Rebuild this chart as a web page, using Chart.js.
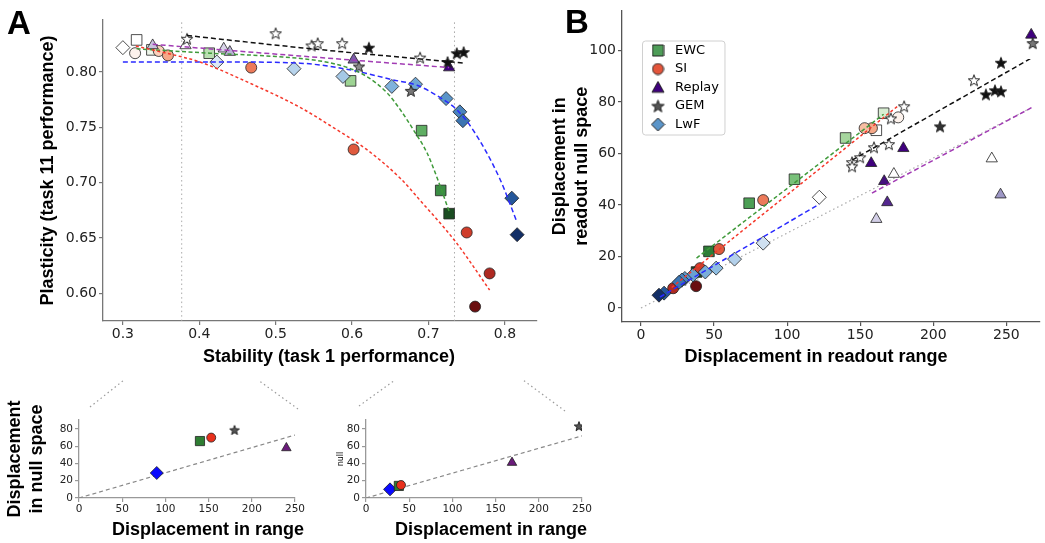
<!DOCTYPE html>
<html>
<head>
<meta charset="utf-8">
<title>Stability / plasticity</title>
<script src="https://cdn.jsdelivr.net/npm/chart.js@4.4.1/dist/chart.umd.min.js"></script>
<style>
  html, body { margin: 0; padding: 0; background: #fff; }
  #fig { position: relative; width: 1045px; height: 543px; overflow: hidden; }
  #fig canvas { position: absolute; }
  .tag { position: absolute; font: bold 33px/33px "Liberation Sans", Arial, sans-serif; color: #000; }
</style>
</head>
<body>
<div id="fig">
  <canvas id="links" width="1045" height="543" style="left:0px;top:0px"></canvas>
  <canvas id="chartA" width="660" height="380" style="left:0px;top:0px"></canvas>
  <canvas id="chartB" width="535" height="380" style="left:520px;top:0px"></canvas>
  <canvas id="inset1" width="418" height="148" style="left:0px;top:395px"></canvas>
  <canvas id="inset2" width="302" height="148" style="left:336px;top:395px"></canvas>
  <div class="tag" style="left:7px;top:6px">A</div>
  <div class="tag" style="left:565px;top:5px">B</div>
</div>
<script>
// ---------- panel A: stability vs plasticity ----------
const aTicksX = [0.3, 0.4, 0.5, 0.6, 0.7, 0.8];
const aTicksY = [0.60, 0.65, 0.70, 0.75, 0.80];

const aEwcX = [0.318, 0.338, 0.413, 0.598, 0.691, 0.716, 0.727];
const aEwcY = [0.829, 0.820, 0.817, 0.792, 0.747, 0.693, 0.672];
const aSiX = [0.316, 0.347, 0.359, 0.468, 0.602, 0.750, 0.780, 0.761];
const aSiY = [0.817, 0.819, 0.815, 0.804, 0.730, 0.655, 0.618, 0.588];
const aReplayX = [0.339, 0.382, 0.432, 0.440, 0.602, 0.727];
const aReplayY = [0.824, 0.824, 0.821, 0.818, 0.811, 0.804];
const aGemX = [0.384, 0.500, 0.547, 0.555, 0.587, 0.609, 0.622, 0.677, 0.689, 0.725, 0.737, 0.746];
const aGemY = [0.830, 0.835, 0.824, 0.826, 0.826, 0.805, 0.822, 0.783, 0.813, 0.809, 0.817, 0.818];
const aLwfX = [0.300, 0.423, 0.524, 0.588, 0.652, 0.683, 0.723, 0.741, 0.745, 0.809, 0.816];
const aLwfY = [0.822, 0.809, 0.803, 0.796, 0.787, 0.789, 0.776, 0.764, 0.756, 0.686, 0.653];

// fitted trade-off curves
const aFitEwcX = [0.318, 0.414, 0.500, 0.558, 0.594, 0.619, 0.646, 0.663, 0.680, 0.698, 0.712, 0.727];
const aFitEwcY = [0.821, 0.817, 0.814, 0.810, 0.804, 0.796, 0.781, 0.766, 0.748, 0.727, 0.703, 0.674];
const aFitSiX = [0.317, 0.357, 0.401, 0.466, 0.532, 0.575, 0.619, 0.663, 0.689, 0.735, 0.780];
const aFitSiY = [0.8235, 0.817, 0.809, 0.790, 0.768, 0.750, 0.730, 0.704, 0.684, 0.647, 0.603];
const aFitLwfX = [0.300, 0.450, 0.532, 0.597, 0.653, 0.685, 0.715, 0.737, 0.758, 0.793, 0.816];
const aFitLwfY = [0.809, 0.809, 0.808, 0.802, 0.793, 0.788, 0.777, 0.766, 0.748, 0.704, 0.664];
const aFitGemX = [0.384, 0.532, 0.748];
const aFitGemY = [0.833, 0.822, 0.808];
const aFitReplayX = [0.339, 0.532, 0.727];
const aFitReplayY = [0.825, 0.8145, 0.804];
const aMarkLines = [0.377, 0.734];

// ---------- panel B: displacement ----------
const bTicksX = [0, 50, 100, 150, 200, 250];
const bTicksY = [0, 20, 40, 60, 80, 100];

const bEwcX = [166, 161, 140, 105, 74, 46.5, 38];
const bEwcY = [75.6, 69, 66, 50, 40.7, 22, 14];
const bSiX = [176, 158, 153, 83.6, 53.4, 40.4, 22, 37.7];
const bSiY = [74, 69.8, 69.8, 41.9, 22.9, 15.5, 7.7, 8.5];
const bReplayX = [267, 179.5, 157.5, 166.4, 168.5, 161, 240, 246, 173];
const bReplayY = [106, 62, 56.2, 49.2, 41, 34.5, 58, 44, 52];
const bGemX = [268, 246.3, 227.8, 236, 242.2, 246.3, 204.6, 180, 171, 169.6, 159.4, 149.9, 144.4, 144.4];
const bGemY = [102.8, 95.2, 88.4, 82.9, 84.5, 84.1, 70.5, 78.3, 73.6, 63.6, 62.4, 58.5, 56.6, 55];
const bLwfX = [122, 83.6, 64, 51.4, 44, 35.6, 30, 28, 26, 15.8, 12.3];
const bLwfY = [43, 25.2, 19, 15.5, 14, 12.8, 11.5, 10.9, 10, 5.8, 5];

const bFitEwcX = [38, 166];    const bFitEwcY = [19.4, 75.2];
const bFitSiX = [21, 176];     const bFitSiY = [8, 78.5];
const bFitLwfX = [13, 122];    const bFitLwfY = [4.3, 40.3];
const bFitGemX = [144.5, 268]; const bFitGemY = [57.4, 97.3];
const bFitReplayX = [158, 268]; const bFitReplayY = [44.6, 78];
const bUnityX = [0, 268];      const bUnityY = [0, 78];

// ---------- insets (order: EWC, SI, Replay, GEM, LwF) ----------
const methods = ['EWC', 'SI', 'Replay', 'GEM', 'LwF'];
const insetTicksX = [0, 50, 100, 150, 200, 250];
const insetTicksY = [0, 20, 40, 60, 80];
const in1X = [140, 153, 240, 180, 90];
const in1Y = [66, 70, 58, 79, 29];
const in1FitX = [0, 250];  const in1FitY = [0, 73];
const in2X = [38, 40.5, 169, 246.5, 27.8];
const in2Y = [14, 15, 41, 83.4, 10];
const in2FitX = [0, 250];  const in2FitY = [0, 72];

// connector lines between panel A and the insets (page pixels)
const linkX = [[90, 124], [298, 258], [359, 395], [565, 523]];
const linkY = [[407, 380], [409, 380], [406, 380], [411, 380]];

// ---------- styles ----------
const aEwcFill = ['#ffffff', '#eef6ea', '#b9e0b1', '#9dd393', '#5fae63', '#3b8d44', '#1b4d22'];
const aSiFill = ['#fdf2ec', '#fbd0bb', '#f5a888', '#ec7a5a', '#df5a3e', '#cf3d2b', '#ae2921', '#6a0f10'];
const aReplayFill = ['#c9c3de', '#faf8fc', '#d9d4e9', '#bab2d7', '#7c5ca9', '#3f007d'];
const aGemFill = ['#fff', '#fff', '#fff', '#fff', '#fff', '#8a8a8a', '#111', '#777', '#fff', '#111', '#111', '#111'];
const aLwfFill = ['#ffffff', '#dde9f5', '#b8d4ec', '#a5c8e6', '#80b2dc', '#6fa6d5', '#5b95c9', '#4a84bd', '#3c75b1', '#25579a', '#132f66'];
const bEwcFill = ['#d8edd2', '#ffffff', '#a6d69e', '#79c17a', '#4c9f55', '#2e7d37', '#17461e'];
const bSiFill = ['#fdf2ec', '#f5a888', '#f8bda2', '#ec7a5a', '#df5a3e', '#cf3d2b', '#ae2921', '#6a0f10'];
const bReplayFill = ['#3f007d', '#3f007d', '#3f007d', '#46107f', '#54278f', '#d3cfe7', '#ffffff', '#9e98c6', '#ffffff'];
const bGemFill = ['#777', '#111', '#fff', '#111', '#111', '#111', '#333', '#fff', '#fff', '#fff', '#fff', '#fff', '#fff', '#fff'];
const bLwfFill = ['#ffffff', '#cfe0f0', '#b3d0ea', '#8fbde1', '#7aaed9', '#6aa1d1', '#5b95c9', '#4a84bd', '#3c75b1', '#25579a', '#132f66'];
const legendFill = ['#4e9d58', '#e4553b', '#3f007d', '#555555', '#5b95c9'];
const insetFill = ['#2e7d32', '#e8301c', '#6a1b7a', '#555555', '#0a0aff'];

Chart.defaults.font.family = 'DejaVu Sans';
Chart.defaults.color = '#222';
Chart.defaults.animation = false;
Chart.defaults.plugins.tooltip.enabled = false;
Chart.defaults.plugins.legend.display = false;

const titleFont = { family: 'Liberation Sans', weight: 'bold', size: 18, lineHeight: 1.2 };
const pts = (xs, ys) => xs.map((x, i) => ({ x: x, y: ys[i] }));

// small marker pictures (stars, legend icons)
function icon(kind, fill, size) {
  const c = document.createElement('canvas');
  c.width = c.height = size + 2;
  const g = c.getContext('2d');
  const m = c.width / 2, h = size / 2;
  g.beginPath();
  if (kind === 'rect') g.rect(m - h, m - h, size, size);
  else if (kind === 'circle') g.arc(m, m, h, 0, Math.PI * 2);
  else if (kind === 'triangle') { g.moveTo(m, m - h); g.lineTo(m + h, m + h * 0.8); g.lineTo(m - h, m + h * 0.8); g.closePath(); }
  else if (kind === 'rectRot') { g.moveTo(m, m - h); g.lineTo(m + h, m); g.lineTo(m, m + h); g.lineTo(m - h, m); g.closePath(); }
  else {
    for (let i = 0; i < 10; i++) {
      const r = i % 2 ? h * 0.42 : h;
      const a = -Math.PI / 2 + i * Math.PI / 5;
      g.lineTo(m + r * Math.cos(a), m + 0.6 + r * Math.sin(a));
    }
    g.closePath();
  }
  g.fillStyle = fill;
  g.fill();
  g.lineWidth = 1;
  g.strokeStyle = '#222';
  g.stroke();
  return c;
}
const stars = (fills, size) => fills.map(f => icon('star', f, size));

function markers(xs, ys, style, radius, fills) {
  return {
    data: pts(xs, ys), showLine: false, pointStyle: style, pointRadius: radius,
    pointBackgroundColor: fills, pointBorderColor: '#222', pointBorderWidth: 0.8, order: 2
  };
}
function fitLine(xs, ys, color, dash, width) {
  return {
    data: pts(xs, ys), showLine: true, pointRadius: 0, borderColor: color,
    borderWidth: width || 1.5, borderDash: dash, cubicInterpolationMode: 'monotone', fill: false, order: 1
  };
}

function scale(pos, min, max, ticks, digits, boxSize, fontSize, lineColor) {
  return {
    type: 'linear', position: pos, min: min, max: max,
    afterBuildTicks: s => { s.ticks = ticks.map(v => ({ value: v })); },
    afterFit: s => { if (pos === 'bottom') s.height = boxSize; else s.width = boxSize; },
    grid: { display: true, drawOnChartArea: false, drawTicks: true, tickLength: 4, color: lineColor, lineWidth: 1.2 },
    border: { display: true, color: lineColor, width: 1.3 },
    ticks: { font: { size: fontSize }, color: '#222', padding: pos === 'bottom' ? 1 : 2, callback: v => v.toFixed(digits) }
  };
}
function padScale(width) {
  return {
    type: 'linear', position: 'right', grid: { display: false }, border: { display: false },
    ticks: { display: false }, afterFit: s => { s.width = width; }
  };
}
function xTitle(text) {
  return { display: true, position: 'bottom', align: 'center', fullSize: true, text: text, font: titleFont, color: '#000', padding: 0 };
}

// ---------- connectors ----------
new Chart(document.getElementById('links'), {
  type: 'scatter',
  data: {
    datasets: linkX.map((xs, i) => ({
      data: pts(xs, linkY[i]), showLine: true, pointRadius: 0,
      borderColor: '#9a9a9a', borderWidth: 1.2, borderDash: [1.5, 3]
    }))
  },
  options: {
    responsive: false,
    layout: { padding: 0 },
    scales: {
      x: { type: 'linear', min: 0, max: 1045, display: false },
      y: { type: 'linear', min: 0, max: 543, reverse: true, display: false }
    }
  }
});

// ---------- panel A ----------
const aScaleY = scale('left', 0.575, 0.847, aTicksY, 2, 103, 14, '#777');
aScaleY.title = { display: true, text: 'Plasticity (task 11 performance)', font: titleFont, color: '#000', padding: { top: 37.2, bottom: 0 } };

new Chart(document.getElementById('chartA'), {
  type: 'scatter',
  data: {
    datasets: [
      fitLine(aFitSiX, aFitSiY, '#f5372a', [3, 2.5]),
      fitLine(aFitEwcX, aFitEwcY, '#3f9a3a', [4, 2.5]),
      fitLine(aFitLwfX, aFitLwfY, '#2a2aff', [5, 3]),
      fitLine(aFitGemX, aFitGemY, '#111111', [5, 3]),
      fitLine(aFitReplayX, aFitReplayY, '#a23cb4', [5, 3]),
      markers(aGemX, aGemY, stars(aGemFill, 12), 6, aGemFill),
      markers(aReplayX, aReplayY, 'triangle', 6.5, aReplayFill),
      markers(aLwfX, aLwfY, 'rectRot', 7, aLwfFill),
      markers(aSiX, aSiY, 'circle', 5.5, aSiFill),
      markers(aEwcX, aEwcY, 'rect', 7.5, aEwcFill),
      ...aMarkLines.map(x => Object.assign(fitLine([x, x], [0.575, 0.847], '#aaaaaa', [1.5, 3], 1), { order: 3 }))
    ]
  },
  options: {
    responsive: false,
    layout: { padding: { left: 0, right: 2, top: 20, bottom: 12.2 } },
    scales: {
      x: scale('bottom', 0.274, 0.842, aTicksX, 1, 25.2, 14, '#777'),
      y: aScaleY,
      pad: padScale(121)
    },
    plugins: { title: xTitle('Stability (task 1 performance)') }
  }
});

// ---------- panel B ----------
const legendIcons = [
  icon('rect', legendFill[0], 11), icon('circle', legendFill[1], 11), icon('triangle', legendFill[2], 12),
  icon('star', legendFill[3], 13), icon('rectRot', legendFill[4], 13)
];
const legendBox = {
  id: 'legendBox',
  afterLayout(chart) {
    const lg = chart.legend;
    lg.left += 20; lg.right += 20; lg.top += 38.5; lg.bottom += 38.5;
  },
  beforeDraw(chart) {
    const lg = chart.legend, g = chart.ctx;
    const col = lg.columnSizes && lg.columnSizes[0];
    if (!col) return;
    g.save();
    g.beginPath();
    g.roundRect(lg.left + 0.5, lg.top + 2.5, col.width + 11, 94, 3);
    g.fillStyle = '#fff';
    g.fill();
    g.strokeStyle = '#d0d0d0';
    g.lineWidth = 1;
    g.stroke();
    g.restore();
  }
};

const bScaleY = scale('left', -5.4, 115.5, bTicksY, 0, 40, 14, '#555');
bScaleY.title = { display: true, text: ['Displacement in', 'readout null space'], font: titleFont, color: '#000', padding: { top: -32.8, bottom: 0 } };

new Chart(document.getElementById('chartB'), {
  type: 'scatter',
  data: {
    datasets: [
      fitLine(bFitEwcX, bFitEwcY, '#3f9a3a', [4, 2.5]),
      fitLine(bFitSiX, bFitSiY, '#f5372a', [3, 2.5]),
      fitLine(bFitLwfX, bFitLwfY, '#2a2aff', [5, 3]),
      fitLine(bFitGemX, bFitGemY, '#111111', [5, 3]),
      fitLine(bFitReplayX, bFitReplayY, '#a23cb4', [5, 3]),
      Object.assign(fitLine(bUnityX, bUnityY, '#aaaaaa', [1.5, 3], 1.2), { order: 3 }),
      markers(bGemX, bGemY, stars(bGemFill, 12), 6, bGemFill),
      markers(bReplayX, bReplayY, 'triangle', 6.5, bReplayFill),
      markers(bLwfX, bLwfY, 'rectRot', 7, bLwfFill),
      markers(bSiX, bSiY, 'circle', 5.5, bSiFill),
      markers(bEwcX, bEwcY, 'rect', 7.5, bEwcFill)
    ]
  },
  options: {
    responsive: false,
    layout: { padding: { left: 62, right: 5, top: 10, bottom: 12.2 } },
    scales: {
      x: scale('bottom', -13, 273, bTicksX, 0, 24.2, 14, '#555'),
      y: bScaleY,
      pad: padScale(10)
    },
    plugins: {
      title: xTitle('Displacement in readout range'),
      legend: {
        display: true, position: 'chartArea', align: 'start',
        labels: {
          usePointStyle: true, pointStyleWidth: 21, boxHeight: 8, padding: 5.5,
          font: { size: 13 }, color: '#222',
          generateLabels: () => methods.map((m, i) => ({
            text: m, pointStyle: legendIcons[i], fillStyle: legendFill[i], strokeStyle: '#222',
            lineWidth: 1, hidden: false, datasetIndex: i
          }))
        }
      }
    }
  },
  plugins: [legendBox]
});

// ---------- insets ----------
function insetData(xs, ys, fx, fy) {
  const one = i => markers([xs[i]], [ys[i]], null, 0, [insetFill[i]]);
  const sets = [
    Object.assign(fitLine(fx, fy, '#888888', [4, 3], 1.2), { order: 3 }),
    Object.assign(one(3), { pointStyle: icon('star', insetFill[3], 10), pointRadius: 5 }),
    Object.assign(one(2), { pointStyle: 'triangle', pointRadius: 5.5 }),
    Object.assign(one(1), { pointStyle: 'circle', pointRadius: 4.5 }),
    Object.assign(one(0), { pointStyle: 'rect', pointRadius: 6.5 }),
    Object.assign(one(4), { pointStyle: 'rectRot', pointRadius: 6.5 })
  ];
  return { datasets: sets };
}
function insetScaleY(yTitle, titleOpts, left) {
  const s = scale('left', 0, 90.4, insetTicksY, 0, left, 10.5, '#999');
  s.title = Object.assign({ display: true, text: yTitle, color: '#000' }, titleOpts);
  return s;
}

new Chart(document.getElementById('inset1'), {
  type: 'scatter',
  data: insetData(in1X, in1Y, in1FitX, in1FitY),
  options: {
    responsive: false,
    layout: { padding: { left: 0, right: 2, top: 25, bottom: 2.2 } },
    scales: {
      x: scale('bottom', 0, 250, insetTicksX, 0, 21.2, 10.5, '#999'),
      y: insetScaleY(['Displacement', 'in null space'], { font: titleFont, padding: { top: 4.2, bottom: 0 } }, 79),
      pad: padScale(121)
    },
    plugins: { title: xTitle('Displacement in range') }
  }
});

new Chart(document.getElementById('inset2'), {
  type: 'scatter',
  data: insetData(in2X, in2Y, in2FitX, in2FitY),
  options: {
    responsive: false,
    layout: { padding: { left: 10, right: 2, top: 25, bottom: 2.2 } },
    scales: {
      x: scale('bottom', 0, 250, insetTicksX, 0, 21.2, 10.5, '#999'),
      y: insetScaleY('null', { font: { size: 8 }, padding: { top: -9.8, bottom: 0 } }, 20),
      pad: padScale(54)
    },
    plugins: { title: xTitle('Displacement in range') }
  }
});
</script>
</body>
</html>
